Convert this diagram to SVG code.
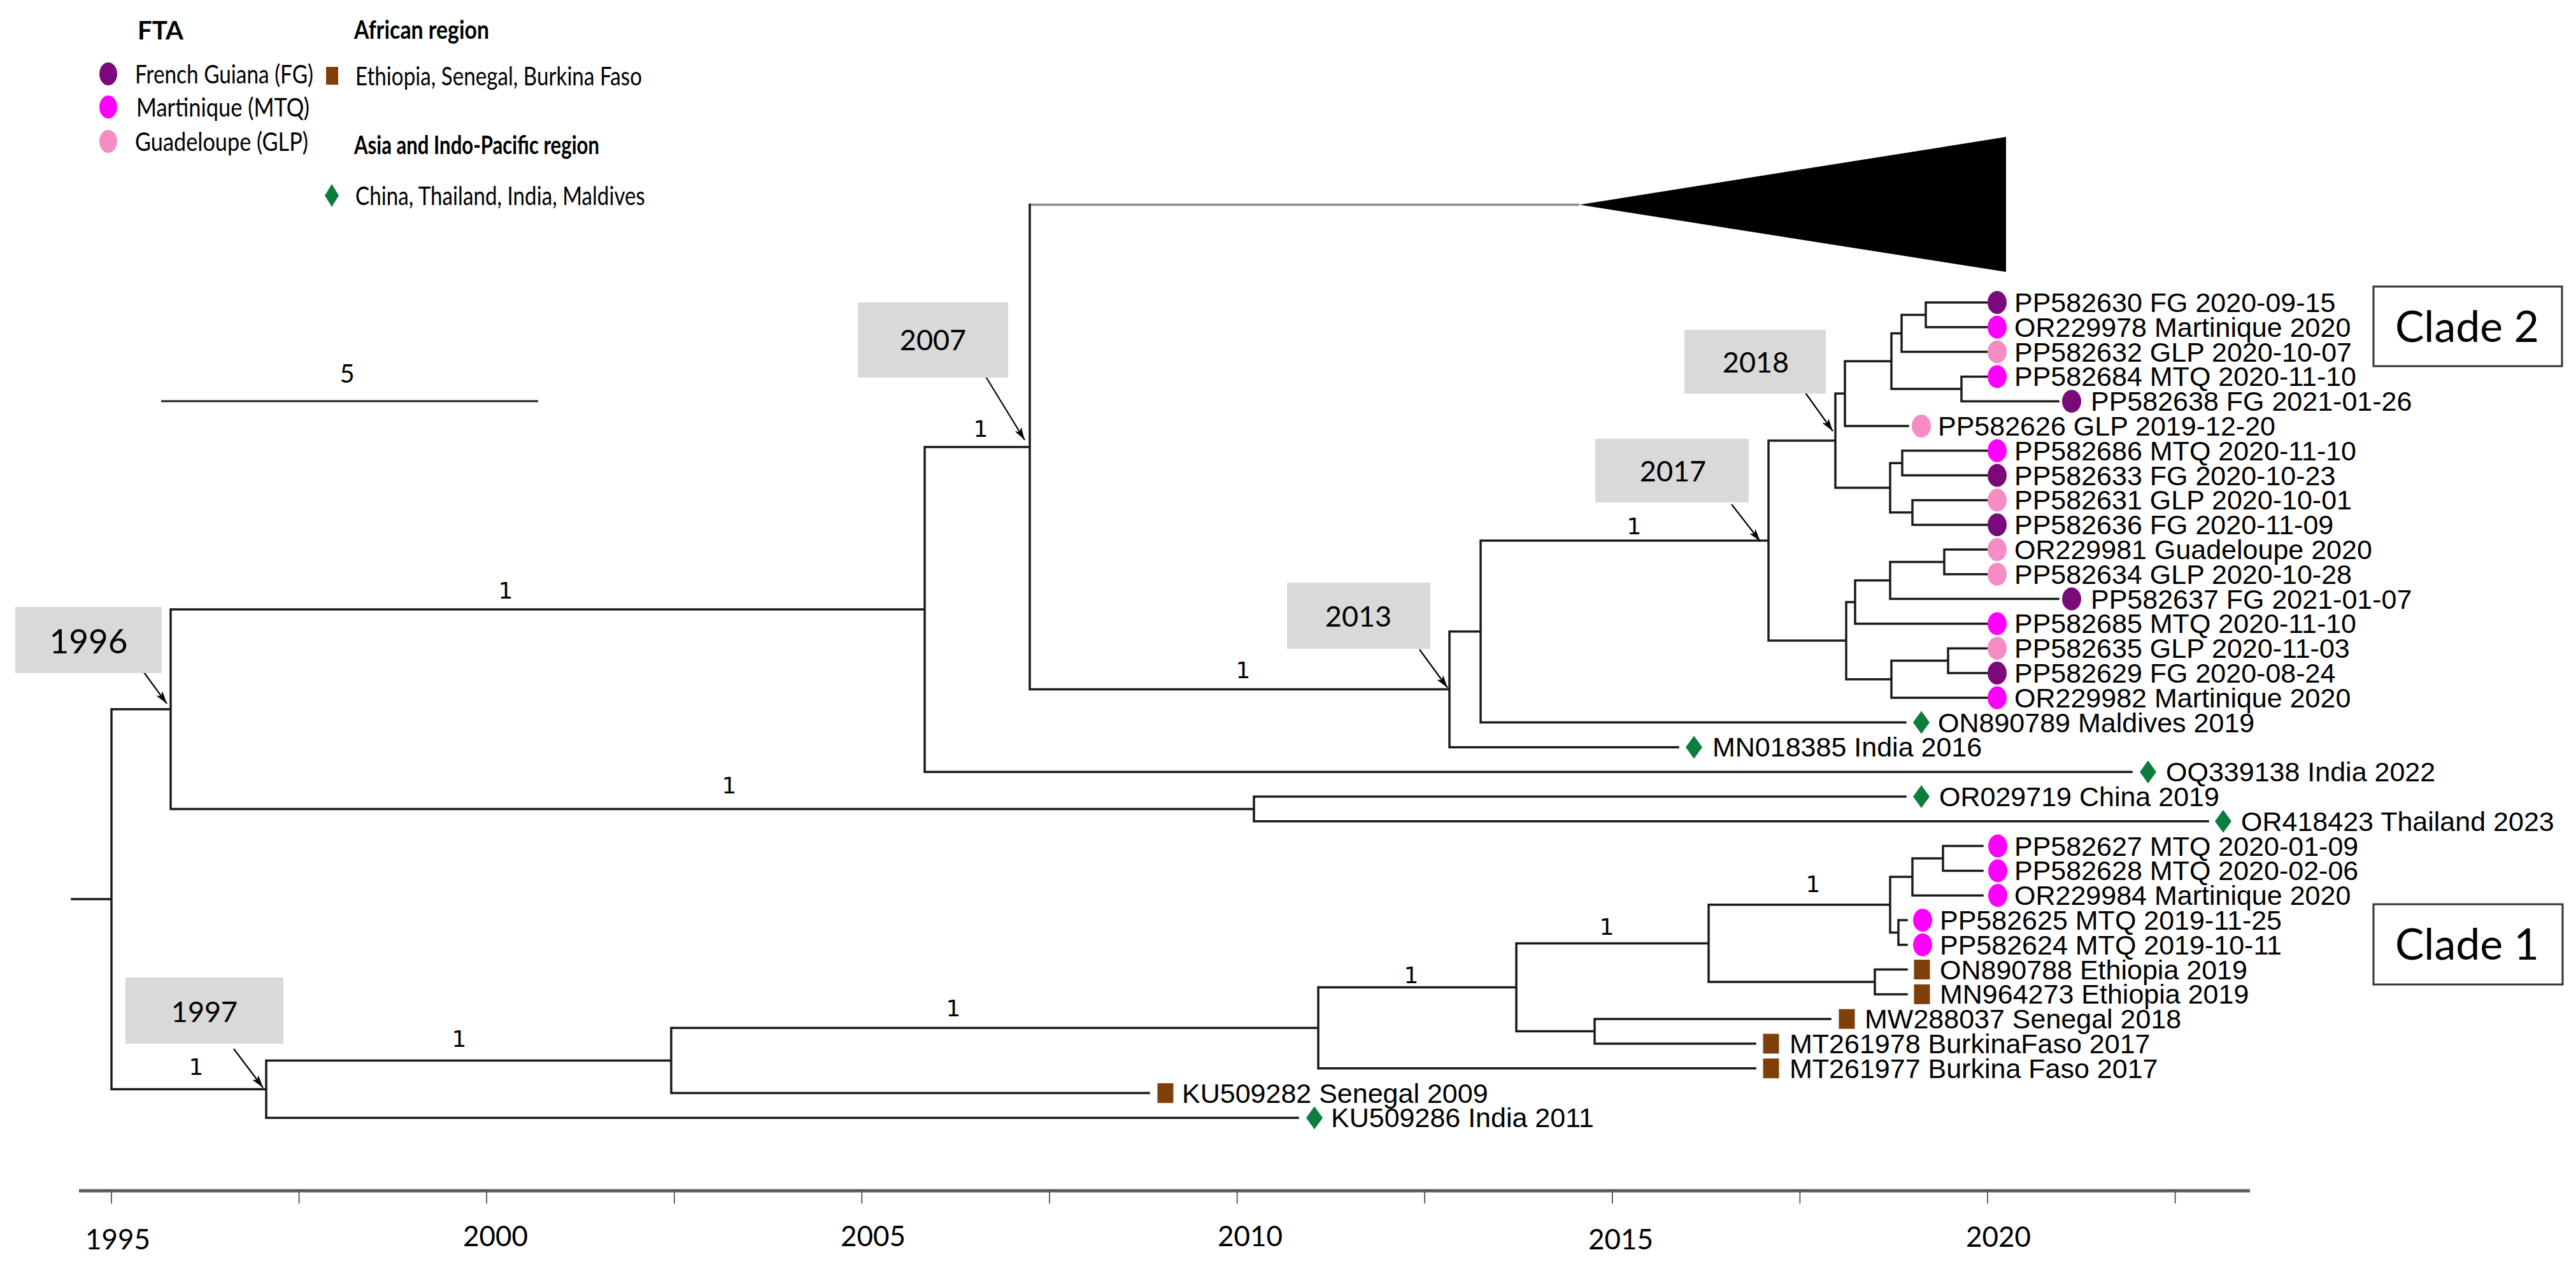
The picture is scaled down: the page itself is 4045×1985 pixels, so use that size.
<svg xmlns="http://www.w3.org/2000/svg" xmlns:xlink="http://www.w3.org/1999/xlink" width="4045" height="1985" viewBox="0 0 4045 1985">
<style>
.br{fill:none;stroke:#1a1a1a;stroke-width:3.5;stroke-linecap:square}
.col{fill:none;stroke:#8c8c8c;stroke-width:3.5}
.tip{font-family:"Liberation Sans",Arial,sans-serif;font-size:43px;fill:#000}
.leg{font-family:Lato,"Open Sans",sans-serif;font-size:41px;fill:#000}
.legb{font-family:Lato,"Open Sans",sans-serif;font-size:41px;font-weight:bold;fill:#000}
.bs{font-family:"DejaVu Sans",sans-serif;font-size:36px;fill:#000;text-anchor:middle}
.box{fill:#d9d9d9}
.boxt{font-family:Lato,"Open Sans",sans-serif;font-size:45px;fill:#000;text-anchor:middle}
.arr{stroke:#000;stroke-width:2.2;fill:none}
.clade{fill:#fff;stroke:#333;stroke-width:3}
.cladet{font-family:Lato,"Open Sans",sans-serif;font-size:68px;fill:#000;text-anchor:middle}
.axt{font-family:Lato,"Open Sans",sans-serif;font-size:45px;fill:#000;text-anchor:middle}
.fg{fill:#7a0a7a}.mtq{fill:#ff00ff}.glp{fill:#f58cc4}.afr{fill:#7f3f0a}.asia{fill:#0b7d3e}
</style>
<defs>
<ellipse id="c" rx="15" ry="18"/>
<rect id="sq" x="-12.5" y="-15.5" width="25" height="31"/>
<path id="dm" d="M0,-18 L13,0 L0,18 L-13,0Z"/>
<marker id="ah" viewBox="0 0 20 12" refX="20" refY="6" markerWidth="20" markerHeight="12" markerUnits="userSpaceOnUse" orient="auto"><path d="M0,0 L20,6 L0,12 L5,6Z" fill="#000"/></marker>
</defs>
<rect width="4045" height="1985" fill="#fff"/>

<g id="legend">
<text class="legb" x="216" y="62" textLength="72" lengthAdjust="spacingAndGlyphs">FTA</text>
<ellipse class="fg" cx="170" cy="116" rx="14" ry="18"/>
<text class="leg" x="212" y="131" textLength="280" lengthAdjust="spacingAndGlyphs">French Guiana (FG)</text>
<ellipse class="mtq" cx="170" cy="168" rx="14" ry="18"/>
<text class="leg" x="214" y="183" textLength="272" lengthAdjust="spacingAndGlyphs">Martinique (MTQ)</text>
<ellipse class="glp" cx="170" cy="222" rx="14" ry="18"/>
<text class="leg" x="212" y="237" textLength="272" lengthAdjust="spacingAndGlyphs">Guadeloupe (GLP)</text>
<text class="legb" x="556" y="61" textLength="212" lengthAdjust="spacingAndGlyphs">African region</text>
<rect class="afr" x="512" y="105" width="19" height="28"/>
<text class="leg" x="558" y="134" textLength="450" lengthAdjust="spacingAndGlyphs">Ethiopia, Senegal, Burkina Faso</text>
<text class="legb" x="556" y="242" textLength="385" lengthAdjust="spacingAndGlyphs">Asia and Indo-Pacific region</text>
<path class="asia" d="M521,289 L532,307 L521,325 L510,307Z"/>
<text class="leg" x="558" y="322" textLength="455" lengthAdjust="spacingAndGlyphs">China, Thailand, India, Maldives</text>
</g>

<g id="scalebar">
<line x1="253" y1="630" x2="845" y2="630" stroke="#1a1a1a" stroke-width="3"/>
<text class="boxt" x="545" y="601" style="font-size:40px">5</text>
</g>

<g id="connectors">
<path class="col" d="M1617,321.5 H2480"/>
<polygon id="collapsed-clade" points="2480,321.5 3150,215 3150,427" fill="#000"/>
<path class="br" d="M3024,475 V513.8 M3024,475 H3120 M3024,513.8 H3120
M2986,494.4 V552.6 M2986,494.4 H3024 M2986,552.6 H3120
M3080,591.4 V630.2 M3080,591.4 H3120 M3080,630.2 H3232
M2970,523.5 V610.8 M2970,523.5 H2986 M2970,610.8 H3080
M2897,567.15 V669 M2897,567.15 H2970 M2897,669 H2996
M2987,707.8 V746.6 M2987,707.8 H3120 M2987,746.6 H3120
M3003,785.4 V824.2 M3003,785.4 H3120 M3003,824.2 H3120
M2968,727.2 V804.8 M2968,727.2 H2987 M2968,804.8 H3003
M2882,618.1 V766 M2882,618.1 H2897 M2882,766 H2968
M3053,863 V901.8 M3053,863 H3120 M3053,901.8 H3120
M2968,882.4 V940.6 M2968,882.4 H3053 M2968,940.6 H3232
M2913,911.5 V979.4 M2913,911.5 H2968 M2913,979.4 H3120
M3059,1018.2 V1057 M3059,1018.2 H3120 M3059,1057 H3120
M2970,1037.6 V1095.8 M2970,1037.6 H3059 M2970,1095.8 H3120
M2899,945.5 V1066.7 M2899,945.5 H2913 M2899,1066.7 H2970
M2777,692 V1006 M2777,692 H2882 M2777,1006 H2899
M2325,849 V1134.6 M2325,849 H2777 M2325,1134.6 H2992
M2276,991.8 V1173.4 M2276,991.8 H2325 M2276,1173.4 H2635
M1617,321.5 V1082.6 M1617,1082.6 H2276
M1452,702 V1212.2 M1452,702 H1617 M1452,1212.2 H3347
M1969,1251 V1289.8 M1969,1251 H2992 M1969,1289.8 H3467
M268,957.1 V1270.4 M268,957.1 H1452 M268,1270.4 H1969
M3051,1328.6 V1367.4 M3051,1328.6 H3113 M3051,1367.4 H3113
M3003,1348 V1406.2 M3003,1348 H3051 M3003,1406.2 H3113
M2981,1445 V1483.8 M2981,1445 H2994 M2981,1483.8 H2994
M2968,1377.1 V1464.4 M2968,1377.1 H3003 M2968,1464.4 H2981
M2944,1522.6 V1561.4 M2944,1522.6 H2994 M2944,1561.4 H2994
M2683,1420.75 V1542 M2683,1420.75 H2968 M2683,1542 H2944
M2504,1600.2 V1639 M2504,1600.2 H2874 M2504,1639 H2756
M2381,1481.4 V1619.6 M2381,1481.4 H2683 M2381,1619.6 H2504
M2070,1550.5 V1677.8 M2070,1550.5 H2381 M2070,1677.8 H2756
M1054,1614.15 V1716.6 M1054,1614.15 H2070 M1054,1716.6 H1804
M418,1665.4 V1755.4 M418,1665.4 H1054 M418,1755.4 H2038
M175,1113.75 V1710.4 M175,1113.75 H268 M175,1710.4 H418
M113,1412 H175"/>
<line class="arr" x1="218" y1="1045" x2="262" y2="1105" marker-end="url(#ah)"/>
<line class="arr" x1="367" y1="1647" x2="413" y2="1708" marker-end="url(#ah)"/>
<line class="arr" x1="1547" y1="590" x2="1609" y2="691" marker-end="url(#ah)"/>
<line class="arr" x1="2229" y1="1020" x2="2273" y2="1080" marker-end="url(#ah)"/>
<line class="arr" x1="2719" y1="792" x2="2764" y2="850" marker-end="url(#ah)"/>
<line class="arr" x1="2835" y1="617" x2="2878" y2="677" marker-end="url(#ah)"/>
</g>

<g id="support">
<text class="bs" x="794" y="940">1</text>
<text class="bs" x="1145" y="1246">1</text>
<text class="bs" x="1540" y="686">1</text>
<text class="bs" x="1952" y="1065">1</text>
<text class="bs" x="2566" y="839">1</text>
<text class="bs" x="308" y="1688">1</text>
<text class="bs" x="721" y="1644">1</text>
<text class="bs" x="1497" y="1596">1</text>
<text class="bs" x="2216" y="1544">1</text>
<text class="bs" x="2523" y="1468">1</text>
<text class="bs" x="2847" y="1401">1</text>
</g>

<g id="node-1996"><rect class="box" x="24" y="953" width="230" height="104"/><text class="boxt" x="139" y="1026" style="font-size:53px">1996</text></g>
<g id="node-1997"><rect class="box" x="197" y="1535" width="248" height="104"/><text class="boxt" x="321" y="1605">1997</text></g>
<g id="node-2007"><rect class="box" x="1347" y="475" width="236" height="118"/><text class="boxt" x="1465" y="550">2007</text></g>
<g id="node-2013"><rect class="box" x="2021" y="915" width="225" height="104"/><text class="boxt" x="2133" y="984">2013</text></g>
<g id="node-2017"><rect class="box" x="2505" y="689" width="241" height="100"/><text class="boxt" x="2627" y="756">2017</text></g>
<g id="node-2018"><rect class="box" x="2645" y="518" width="222" height="100"/><text class="boxt" x="2757" y="585">2018</text></g>

<g id="clade-2"><rect class="clade" x="3727" y="450" width="296" height="125"/><text class="cladet" x="3874" y="537">Clade 2</text></g>
<g id="clade-1"><rect class="clade" x="3727" y="1420" width="297" height="126"/><text class="cladet" x="3874" y="1507">Clade 1</text></g>

<g id="tips">
<g id="tip-PP582630"><use href="#c" class="fg" x="3136" y="475"/><text class="tip" x="3163" y="490">PP582630 FG 2020-09-15</text></g>
<g id="tip-OR229978"><use href="#c" class="mtq" x="3136" y="513.8"/><text class="tip" x="3163" y="528.8">OR229978 Martinique 2020</text></g>
<g id="tip-PP582632"><use href="#c" class="glp" x="3136" y="552.6"/><text class="tip" x="3163" y="567.6">PP582632 GLP 2020-10-07</text></g>
<g id="tip-PP582684"><use href="#c" class="mtq" x="3136" y="591.4"/><text class="tip" x="3163" y="606.4">PP582684 MTQ 2020-11-10</text></g>
<g id="tip-PP582638"><use href="#c" class="fg" x="3253" y="630.2"/><text class="tip" x="3283" y="645.2">PP582638 FG 2021-01-26</text></g>
<g id="tip-PP582626"><use href="#c" class="glp" x="3017" y="669"/><text class="tip" x="3043" y="684">PP582626 GLP 2019-12-20</text></g>
<g id="tip-PP582686"><use href="#c" class="mtq" x="3136" y="707.8"/><text class="tip" x="3163" y="722.8">PP582686 MTQ 2020-11-10</text></g>
<g id="tip-PP582633"><use href="#c" class="fg" x="3136" y="746.6"/><text class="tip" x="3163" y="761.6">PP582633 FG 2020-10-23</text></g>
<g id="tip-PP582631"><use href="#c" class="glp" x="3136" y="785.4"/><text class="tip" x="3163" y="800.4">PP582631 GLP 2020-10-01</text></g>
<g id="tip-PP582636"><use href="#c" class="fg" x="3136" y="824.2"/><text class="tip" x="3163" y="839.2">PP582636 FG 2020-11-09</text></g>
<g id="tip-OR229981"><use href="#c" class="glp" x="3136" y="863"/><text class="tip" x="3163" y="878">OR229981 Guadeloupe 2020</text></g>
<g id="tip-PP582634"><use href="#c" class="glp" x="3136" y="901.8"/><text class="tip" x="3163" y="916.8">PP582634 GLP 2020-10-28</text></g>
<g id="tip-PP582637"><use href="#c" class="fg" x="3253" y="940.6"/><text class="tip" x="3283" y="955.6">PP582637 FG 2021-01-07</text></g>
<g id="tip-PP582685"><use href="#c" class="mtq" x="3136" y="979.4"/><text class="tip" x="3163" y="994.4">PP582685 MTQ 2020-11-10</text></g>
<g id="tip-PP582635"><use href="#c" class="glp" x="3136" y="1018.2"/><text class="tip" x="3163" y="1033.2">PP582635 GLP 2020-11-03</text></g>
<g id="tip-PP582629"><use href="#c" class="fg" x="3136" y="1057"/><text class="tip" x="3163" y="1072">PP582629 FG 2020-08-24</text></g>
<g id="tip-OR229982"><use href="#c" class="mtq" x="3136" y="1095.8"/><text class="tip" x="3163" y="1110.8">OR229982 Martinique 2020</text></g>
<g id="tip-ON890789"><use href="#dm" class="asia" x="3017" y="1134.6"/><text class="tip" x="3043" y="1149.6">ON890789 Maldives 2019</text></g>
<g id="tip-MN018385"><use href="#dm" class="asia" x="2660" y="1173.4"/><text class="tip" x="2689" y="1188.4">MN018385 India 2016</text></g>
<g id="tip-OQ339138"><use href="#dm" class="asia" x="3373" y="1212.2"/><text class="tip" x="3401" y="1227.2">OQ339138 India 2022</text></g>
<g id="tip-OR029719"><use href="#dm" class="asia" x="3017" y="1251"/><text class="tip" x="3045" y="1266">OR029719 China 2019</text></g>
<g id="tip-OR418423"><use href="#dm" class="asia" x="3491" y="1289.8"/><text class="tip" x="3519" y="1304.8">OR418423 Thailand 2023</text></g>
<g id="tip-PP582627"><use href="#c" class="mtq" x="3137" y="1328.6"/><text class="tip" x="3163" y="1343.6">PP582627 MTQ 2020-01-09</text></g>
<g id="tip-PP582628"><use href="#c" class="mtq" x="3137" y="1367.4"/><text class="tip" x="3163" y="1382.4">PP582628 MTQ 2020-02-06</text></g>
<g id="tip-OR229984"><use href="#c" class="mtq" x="3137" y="1406.2"/><text class="tip" x="3163" y="1421.2">OR229984 Martinique 2020</text></g>
<g id="tip-PP582625"><use href="#c" class="mtq" x="3019" y="1445"/><text class="tip" x="3046" y="1460">PP582625 MTQ 2019-11-25</text></g>
<g id="tip-PP582624"><use href="#c" class="mtq" x="3019" y="1483.8"/><text class="tip" x="3046" y="1498.8">PP582624 MTQ 2019-10-11</text></g>
<g id="tip-ON890788"><use href="#sq" class="afr" x="3018" y="1522.6"/><text class="tip" x="3046" y="1537.6">ON890788 Ethiopia 2019</text></g>
<g id="tip-MN964273"><use href="#sq" class="afr" x="3018" y="1561.4"/><text class="tip" x="3046" y="1576.4">MN964273 Ethiopia 2019</text></g>
<g id="tip-MW288037"><use href="#sq" class="afr" x="2900" y="1600.2"/><text class="tip" x="2928" y="1615.2">MW288037 Senegal 2018</text></g>
<g id="tip-MT261978"><use href="#sq" class="afr" x="2781" y="1639"/><text class="tip" x="2810" y="1654">MT261978 BurkinaFaso 2017</text></g>
<g id="tip-MT261977"><use href="#sq" class="afr" x="2781" y="1677.8"/><text class="tip" x="2810" y="1692.8">MT261977 Burkina Faso 2017</text></g>
<g id="tip-KU509282"><use href="#sq" class="afr" x="1830" y="1716.6"/><text class="tip" x="1856" y="1731.6">KU509282 Senegal 2009</text></g>
<g id="tip-KU509286"><use href="#dm" class="asia" x="2064" y="1755.4"/><text class="tip" x="2090" y="1770.4">KU509286 India 2011</text></g>
</g>

<g id="axis">
<line x1="124" y1="1870" x2="3533" y2="1870" stroke="#5a5a5a" stroke-width="5"/>
<path d="M175,1872 V1890 M469.6,1872 V1890 M764.2,1872 V1890 M1058.8,1872 V1890 M1353.4,1872 V1890 M1648,1872 V1890 M1942.6,1872 V1890 M2237.2,1872 V1890 M2531.8,1872 V1890 M2826.4,1872 V1890 M3121,1872 V1890 M3415.6,1872 V1890" stroke="#333" stroke-width="1.5" fill="none"/>
<text class="axt" x="185" y="1962" textLength="102" lengthAdjust="spacingAndGlyphs">1995</text>
<text class="axt" x="778" y="1957" textLength="102" lengthAdjust="spacingAndGlyphs">2000</text>
<text class="axt" x="1371" y="1957" textLength="102" lengthAdjust="spacingAndGlyphs">2005</text>
<text class="axt" x="1963" y="1957" textLength="102" lengthAdjust="spacingAndGlyphs">2010</text>
<text class="axt" x="2545" y="1962" textLength="102" lengthAdjust="spacingAndGlyphs">2015</text>
<text class="axt" x="3138" y="1958" textLength="102" lengthAdjust="spacingAndGlyphs">2020</text>
</g>
</svg>
